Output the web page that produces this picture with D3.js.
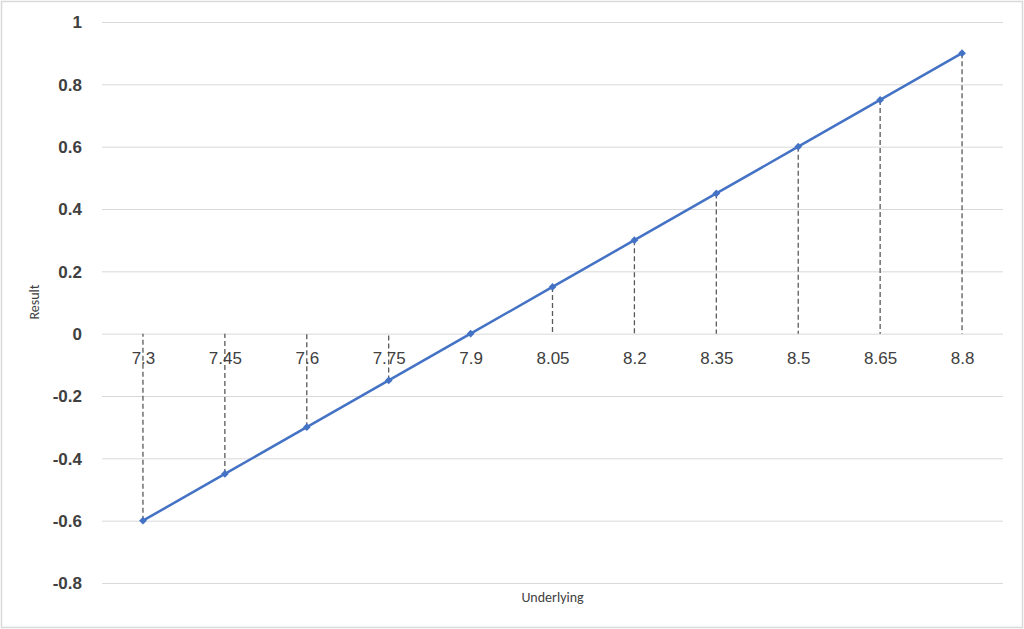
<!DOCTYPE html>
<html>
<head>
<meta charset="utf-8">
<script src="https://cdn.jsdelivr.net/npm/d3@7"></script>
<style>
body { margin: 0; background: #fff; }
svg { display: block; font-family: Calibri, Carlito, "Liberation Sans", "Open Sans", sans-serif; }
</style>
</head>
<body>
<svg></svg>
<script>
// category labels along the x axis
var underlying = ["7.3", "7.45", "7.6", "7.75", "7.9", "8.05", "8.2", "8.35", "8.5", "8.65", "8.8"];
// result for each category
var result = [-0.6, -0.45, -0.3, -0.15, 0, 0.15, 0.3, 0.45, 0.6, 0.75, 0.9];
var yTicks = [-0.8, -0.6, -0.4, -0.2, 0, 0.2, 0.4, 0.6, 0.8, 1];

var screen = {width: 1024, height: 629};
var margins = {left: 102, right: 21, top: 22, bottom: 46};

var svg = d3.select("svg")
    .attr("width", screen.width)
    .attr("height", screen.height);

// outer frame
svg.append("rect")
    .attr("x", 1.5).attr("y", 1.5)
    .attr("width", screen.width - 3).attr("height", screen.height - 3)
    .attr("fill", "#fff")
    .attr("stroke", "#d9d9d9")
    .attr("stroke-width", 1.5);

var xScale = d3.scalePoint()
    .domain(underlying)
    .range([margins.left, screen.width - margins.right])
    .padding(0.5);

var yScale = d3.scaleLinear()
    .domain([-0.8, 1])
    .range([screen.height - margins.bottom, margins.top]);

// gridlines (plain hyphen for negatives, like excel)
var yAxis = d3.axisLeft(yScale)
    .tickValues(yTicks)
    .tickSize(-(screen.width - margins.left - margins.right))
    .tickPadding(20)
    .tickFormat(function(d) { return String(+d.toFixed(1)); });

var gy = svg.append("g")
    .attr("transform", "translate(" + margins.left + ",0)")
    .call(yAxis);
gy.select(".domain").remove();
gy.selectAll("line").attr("stroke", "#d9d9d9").attr("stroke-width", 1);
gy.selectAll("text")
    .attr("fill", "#404040")
    .attr("font-size", "17px")
    .attr("font-weight", "bold")
    .attr("dy", "0.35em");

// drop lines from each point to zero
svg.append("g")
    .selectAll("line")
    .data(result)
    .enter()
    .append("line")
    .attr("x1", function(d, i) { return xScale(underlying[i]); })
    .attr("x2", function(d, i) { return xScale(underlying[i]); })
    .attr("y1", function(d) { return yScale(d); })
    .attr("y2", yScale(0))
    .attr("stroke", "#595959")
    .attr("stroke-width", 1.3)
    .attr("stroke-dasharray", "5,3");

// x axis labels sit just below zero
var xAxis = d3.axisBottom(xScale).tickSize(0).tickPadding(18);
var gx = svg.append("g")
    .attr("transform", "translate(0," + yScale(0) + ")")
    .call(xAxis);
gx.select(".domain").remove();
gx.selectAll("text")
    .attr("fill", "#404040")
    .attr("font-size", "17px");

// line
var line = d3.line()
    .x(function(d, i) { return xScale(underlying[i]); })
    .y(function(d) { return yScale(d); });

svg.append("path")
    .datum(result)
    .attr("d", line)
    .attr("fill", "none")
    .attr("stroke", "#4472c4")
    .attr("stroke-width", 2.5);

svg.append("g")
    .selectAll("path")
    .data(result)
    .enter()
    .append("path")
    .attr("d", d3.symbol().type(d3.symbolSquare).size(30))
    .attr("transform", function(d, i) {
        return "translate(" + xScale(underlying[i]) + "," + yScale(d) + ") rotate(45)";
    })
    .attr("fill", "#4472c4");

// axis titles
svg.append("text")
    .attr("x", (margins.left + screen.width - margins.right) / 2)
    .attr("y", 602)
    .attr("text-anchor", "middle")
    .attr("font-size", "14px")
    .attr("fill", "#404040")
    .text("Underlying");

svg.append("text")
    .attr("transform", "translate(39,302) rotate(-90)")
    .attr("text-anchor", "middle")
    .attr("font-size", "14px")
    .attr("fill", "#404040")
    .text("Result");
</script>
</body>
</html>
